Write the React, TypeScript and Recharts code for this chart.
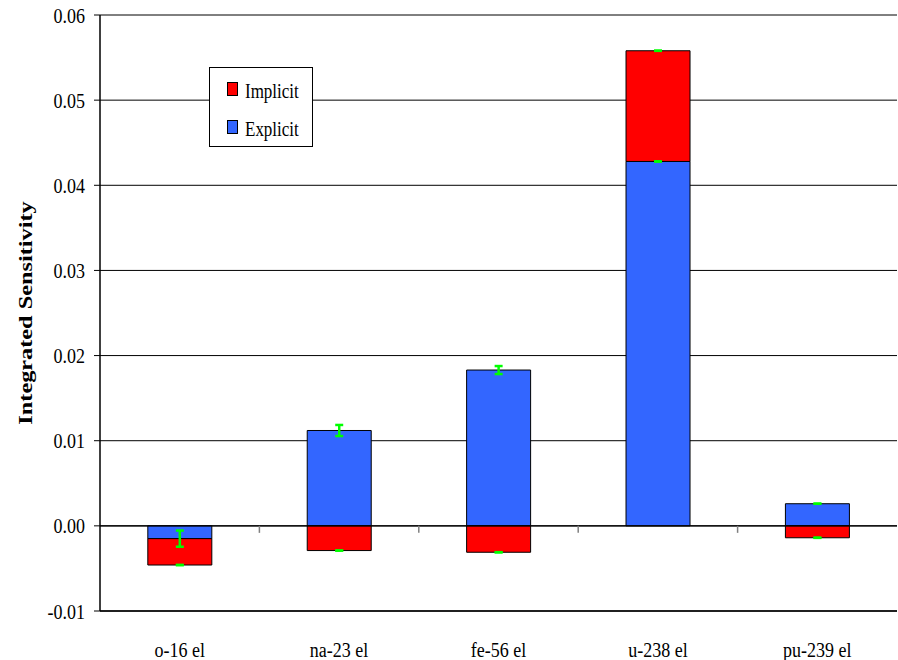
import React from "react";
import {
  BarChart,
  Bar,
  XAxis,
  YAxis,
  CartesianGrid,
  ReferenceLine,
  ErrorBar,
  Label,
} from "recharts";

const CATEGORIES = ["o-16 el", "na-23 el", "fe-56 el", "u-238 el", "pu-239 el"];
const EXPLICIT = [-0.0015, 0.0112, 0.0183, 0.0428, 0.0026];
const IMPLICIT = [-0.0031, -0.0029, -0.0031, 0.013, -0.0014];
const EXPLICIT_ERR = [0.00095, 0.00065, 0.00047, 0.00001, 0.00001];
const IMPLICIT_ERR = [0.00001, 0.00001, 0.00001, 0.00001, 0.00001];
const Y_TICKS = [-0.01, 0, 0.01, 0.02, 0.03, 0.04, 0.05, 0.06];

const LEGEND_ITEMS = [
  { name: "Implicit", color: "#ff0000" },
  { name: "Explicit", color: "#3366ff" },
];

const data = CATEGORIES.map((name, i) => ({
  name,
  explicit: EXPLICIT[i],
  implicit: IMPLICIT[i],
  explicitErr: EXPLICIT_ERR[i],
  implicitErr: IMPLICIT_ERR[i],
}));

const FONT = "Liberation Serif";
const STRETCH = 1.2;

function YTick({ x, y, payload }: any) {
  return (
    <g transform={`translate(${x},${y}) scale(1,${STRETCH})`}>
      <text textAnchor="end" dy="0.35em" fill="#000" fontFamily={FONT} fontSize={18}>
        {Number(payload.value).toFixed(2)}
      </text>
    </g>
  );
}

function XTick({ x, y, payload }: any) {
  return (
    <g transform={`translate(${x},${y + 38}) scale(1,${STRETCH})`}>
      <text textAnchor="middle" fill="#000" fontFamily={FONT} fontSize={18}>
        {payload.value}
      </text>
    </g>
  );
}

function YTitle({ viewBox }: any) {
  const cx = viewBox.x + 26;
  const cy = viewBox.y + viewBox.height / 2;
  return (
    <text
      transform={`translate(${cx},${cy}) rotate(-90) scale(1.35,1)`}
      textAnchor="middle"
      dy="0.35em"
      fill="#000"
      fontFamily={FONT}
      fontSize={18}
      fontWeight="bold"
    >
      Integrated Sensitivity
    </text>
  );
}

// zero line with the category separator ticks hanging below it
function ZeroLine(props: any) {
  const { x1, y1, x2, y2 } = props;
  const step = (x2 - x1) / CATEGORIES.length;
  return (
    <g>
      <line x1={x1} y1={y1} x2={x2} y2={y2} stroke="#000" strokeWidth={1.2} />
      {CATEGORIES.slice(1).map((_, i) => (
        <line
          key={i}
          x1={x1 + step * (i + 1)}
          x2={x1 + step * (i + 1)}
          y1={y1}
          y2={y1 + 7}
          stroke="#808080"
          strokeWidth={1.5}
        />
      ))}
    </g>
  );
}

function LegendBox() {
  return (
    <svg width={104} height={80} style={{ display: "block" }}>
      <rect x={0.5} y={0.5} width={103} height={79} fill="#fff" stroke="#000" />
      {LEGEND_ITEMS.map((item, i) => (
        <g key={item.name} transform={`translate(0,${i * 38})`}>
          <rect x={18.5} y={15.5} width={10} height={13} fill={item.color} stroke="#000" />
          <g transform={`translate(36,31) scale(1,${STRETCH})`}>
            <text fill="#000" fontFamily={FONT} fontSize={17}>
              {item.name}
            </text>
          </g>
        </g>
      ))}
    </svg>
  );
}

export default function App() {
  return (
    <div
      style={{
        position: "absolute",
        left: 0,
        top: 0,
        width: 898,
        height: 660,
        background: "#fff",
      }}
    >
      <BarChart
        width={898}
        height={660}
        data={data}
        stackOffset="sign"
        barCategoryGap="30%"
        margin={{ top: 15, right: 1, bottom: 0, left: 0 }}
      >
        <CartesianGrid vertical={false} stroke="#000" strokeWidth={1} />
        <XAxis
          dataKey="name"
          height={49}
          tickLine={false}
          axisLine={{ stroke: "#000", strokeWidth: 1.5 }}
          tick={<XTick />}
          interval={0}
        />
        <YAxis
          width={100}
          domain={[-0.01, 0.06]}
          ticks={Y_TICKS}
          interval={0}
          tickSize={6}
          tickMargin={9}
          tickLine={{ stroke: "#000" }}
          axisLine={{ stroke: "#000", strokeWidth: 1.5 }}
          tick={<YTick />}
        >
          <Label content={<YTitle />} />
        </YAxis>
        <YAxis
          yAxisId="right"
          orientation="right"
          width={0}
          domain={[-0.01, 0.06]}
          tick={false}
          tickLine={false}
          axisLine={{ stroke: "#808080", strokeWidth: 1.5 }}
        />
        <Bar
          dataKey="explicit"
          name="Explicit"
          stackId="s"
          fill="#3366ff"
          stroke="#000"
          strokeWidth={1}
          isAnimationActive={false}
        >
          <ErrorBar
            dataKey="explicitErr"
            direction="y"
            width={4}
            stroke="#00ff00"
            strokeWidth={2.5}
            isAnimationActive={false}
          />
        </Bar>
        <Bar
          dataKey="implicit"
          name="Implicit"
          stackId="s"
          fill="#ff0000"
          stroke="#000"
          strokeWidth={1}
          isAnimationActive={false}
        >
          <ErrorBar
            dataKey="implicitErr"
            direction="y"
            width={4}
            stroke="#00ff00"
            strokeWidth={2.5}
            isAnimationActive={false}
          />
        </Bar>
        <ReferenceLine y={0} shape={<ZeroLine />} />
      </BarChart>
      <div style={{ position: "absolute", left: 209, top: 67 }}>
        <LegendBox />
      </div>
    </div>
  );
}
